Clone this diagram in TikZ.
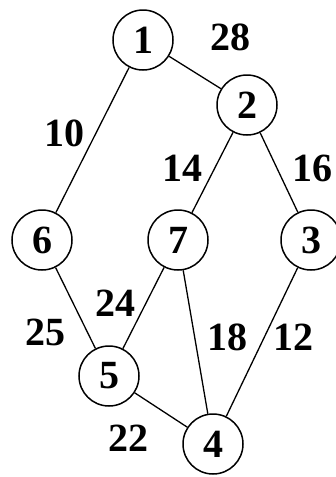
\documentclass[tikz,border=0pt]{standalone}
\usepackage{fontspec}
\setmainfont{Liberation Serif}
\usetikzlibrary{positioning}

\begin{document}
\begin{tikzpicture}[x=1pt, y=-1pt,
    vtx/.style={draw, circle, line width=1.5pt, minimum size=60pt, inner sep=0pt, font=\fontsize{40}{40}\selectfont\bfseries},
    link/.style={line width=1.3pt},
    wt/.style={inner sep=0pt, font=\fontsize{40}{40}\selectfont\bfseries}
]
\useasboundingbox (0,0) rectangle (336,477);
\node[vtx] (v1) at (143,40) {1};
\node[vtx] (v2) at (247,105) {2};
\node[vtx] (v6) at (42,240) {6};
\node[vtx] (v7) at (178,240) {7};
\node[vtx] (v3) at (311,240) {3};
\node[vtx] (v5) at (109,376) {5};
\node[vtx] (v4) at (213,444) {4};

\draw[link] (v1) -- (v2);
\draw[link] (v1) -- (v6);
\draw[link] (v2) -- (v7);
\draw[link] (v2) -- (v3);
\draw[link] (v6) -- (v5);
\draw[link] (v7) -- (v5);
\draw[link] (v7) -- (v4);
\draw[link] (v3) -- (v4);
\draw[link] (v5) -- (v4);

\node[wt] (w12) at (230,37) {28};
\node[wt] (w16) at (65,133) {10};
\node[wt] (w27) at (182,168) {14};
\node[wt] (w23) at (312,168) {16};
\node[wt] (w75) at (115,303) {24};
\node[wt] (w65) at (45,332) {25};
\node[wt] (w74) at (227,337) {18};
\node[wt] (w34) at (293,337) {12};
\node[wt] (w54) at (128,438) {22};
\end{tikzpicture}
\end{document}
